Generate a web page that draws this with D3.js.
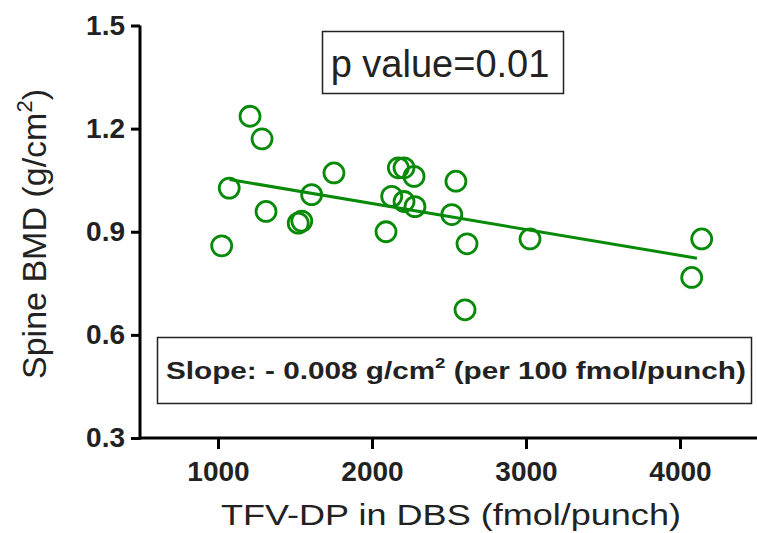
<!DOCTYPE html>
<html><head><meta charset="utf-8">
<script src="https://cdn.jsdelivr.net/npm/d3@7"></script>
<style>body{margin:0;background:#fff}svg{display:block}</style>
</head><body>
<svg id="c" width="757" height="533"></svg>
<script>
// Data
const tfvdp = [1024,1073,1208,1286,1312,1521,1544,1608,1753,2091,2128,2171,2208,2273,2208,2279,2545,2518,2617,2604,3026,4141,4076];
const bmd   = [0.859,1.027,1.236,1.170,0.959,0.925,0.931,1.008,1.071,0.900,1.003,1.086,1.086,1.061,0.988,0.973,1.047,0.950,0.865,0.673,0.879,0.879,0.767];
const fitX = [1075, 4110];
const fitY = [1.052, 0.823];
const xTicks = [1000,2000,3000,4000];
const yTicks = [0.3,0.6,0.9,1.2,1.5];
const xTitle = "TFV-DP in DBS (fmol/punch)";
const pText = "p value=0.01";

const svg = d3.select("#c");
const green = "#078a07";
const font = "'Liberation Sans', Arial, sans-serif";

const x = d3.scaleLinear().domain([500,4500]).range([141,757]);
const y = d3.scaleLinear().domain([0.3,1.5]).range([438,25.5]);

// fit a text horizontally to a target width, keeping its left or centre
function fitWidth(sel, target, anchorX) {
  const w = sel.node().getBBox().width;
  const s = target / w;
  sel.attr("transform", `translate(${anchorX},0) scale(${s},1) translate(${-anchorX},0)`);
}

// axes
const gx = svg.append("g").attr("transform","translate(0,438)")
  .call(d3.axisBottom(x).tickValues(xTicks).tickFormat(d3.format("d")).tickSize(11).tickPadding(12).tickSizeOuter(0));
const gy = svg.append("g").attr("transform","translate(140,0)")
  .call(d3.axisLeft(y).tickValues(yTicks).tickFormat(d3.format(".1f")).tickSize(9).tickPadding(6).tickSizeOuter(0));
[gx,gy].forEach(g=>{
  g.select(".domain").attr("stroke","#000").attr("stroke-width",3);
  g.selectAll(".tick line").attr("stroke","#000").attr("stroke-width",3);
  g.selectAll(".tick text").attr("fill","#222").attr("font-family",font)
    .attr("font-weight","bold").attr("font-size",28);
});
gx.select(".domain").attr("d","M139,0H757");
gy.select(".domain").attr("d","M0,"+y(1.5)+"V"+(439.5));

// axis titles
const xt = svg.append("text").attr("x",451).attr("y",525).attr("text-anchor","middle")
  .attr("font-family",font).attr("font-size",29).attr("fill","#222").text(xTitle);
fitWidth(xt, 460, 451);
const yt = svg.append("text").attr("transform","translate(46,234) rotate(-90)")
  .attr("text-anchor","middle").attr("font-family",font).attr("font-size",34).attr("fill","#222");
yt.append("tspan").text("Spine BMD (g/cm");
yt.append("tspan").attr("font-size",22).attr("dy",-14).text("2");
yt.append("tspan").attr("dy",14).text(")");

// regression line
svg.append("path").datum(fitX.map((d,i)=>[d,fitY[i]]))
  .attr("d",d3.line().x(d=>x(d[0])).y(d=>y(d[1])))
  .attr("stroke",green).attr("stroke-width",3).attr("fill","none");

// points
svg.append("g").selectAll("circle").data(tfvdp.map((d,i)=>[d,bmd[i]])).join("circle")
  .attr("cx",d=>x(d[0])).attr("cy",d=>y(d[1])).attr("r",10)
  .attr("fill","none").attr("stroke",green).attr("stroke-width",2.8);

// p value box
svg.append("rect").attr("x",322.5).attr("y",31.5).attr("width",241).attr("height",62)
  .attr("fill","#fff").attr("stroke","#222").attr("stroke-width",1.5);
svg.append("text").attr("x",440).attr("y",77).attr("text-anchor","middle")
  .attr("font-family",font).attr("font-size",38).attr("fill","#222").text(pText);

// slope box
svg.append("rect").attr("x",157.5).attr("y",337.5).attr("width",594).attr("height",66)
  .attr("fill","#fff").attr("stroke","#222").attr("stroke-width",1.5);
const st = svg.append("text").attr("x",166).attr("y",379)
  .attr("font-family",font).attr("font-size",24).attr("font-weight","bold").attr("fill","#222");
st.append("tspan").text("Slope: - 0.008 g/cm");
st.append("tspan").attr("font-size",15).attr("dy",-11).text("2");
st.append("tspan").attr("dy",11).text(" (per 100 fmol/punch)");
fitWidth(st, 580, 166);
</script>
</body></html>
